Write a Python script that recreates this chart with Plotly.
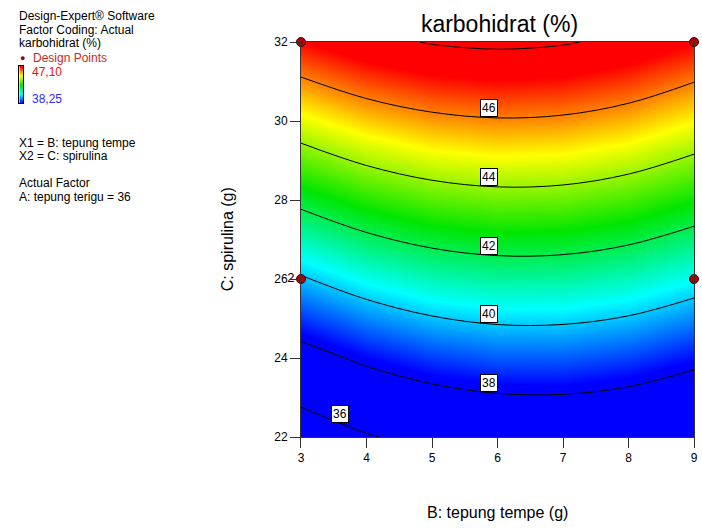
import numpy as np
import plotly.graph_objects as go

# Factor levels (g)
tempe_levels = [3, 4, 5, 6, 7, 8, 9]            # B: tepung tempe
spirulina_levels = [22, 24, 26, 28, 30, 32]     # C: spirulina

# Predicted karbohidrat (%) over the B x C grid, one list per spirulina level
karbo_c22 = [35.10, 35.89, 36.44, 36.73, 36.78, 36.58, 36.13]
karbo_c24 = [37.50, 38.25, 38.76, 39.03, 39.04, 38.81, 38.33]
karbo_c26 = [39.89, 40.61, 41.09, 41.32, 41.30, 41.04, 40.53]
karbo_c28 = [42.28, 42.97, 43.42, 43.62, 43.57, 43.27, 42.73]
karbo_c30 = [44.67, 45.33, 45.74, 45.91, 45.83, 45.50, 44.92]
karbo_c32 = [47.06, 47.69, 48.07, 48.21, 48.09, 47.73, 47.12]
karbo_grid = [karbo_c22, karbo_c24, karbo_c26, karbo_c28, karbo_c30, karbo_c32]

# Design points and their replicate counts
design_tempe = [3, 9, 3, 9]
design_spirulina = [32, 32, 26, 26]
design_reps = [1, 1, 2, 1]

# Contour levels and colour range
level_start, level_end, level_step = 36, 48, 2
labelled_levels = [36, 38, 40, 42, 44, 46]
karbo_low, karbo_high = 38.25, 47.10
x_ticks = [3, 4, 5, 6, 7, 8, 9]
y_ticks = [22, 24, 26, 28, 30, 32]

# Where each contour label sits along B
label_tempe = {36: 3.6, 38: 5.87, 40: 5.87, 42: 5.87, 44: 5.87, 46: 5.87}

W, H = 702, 528
MT, MB = 42, 91
PLOT_LEFT, PLOT_RIGHT = 301, 698
PH = H - MT - MB

FONT = "Arial, 'Liberation Sans', sans-serif"


def px_x(px):
    return px / W


def px_y(py):
    return (H - MB - py) / PH


def spirulina_at(level, tempe):
    """Spirulina value where the response grid reaches `level` at a given B."""
    z = np.asarray(karbo_grid, dtype=float)
    b = np.asarray(tempe_levels, dtype=float)
    col = np.array([np.interp(tempe, b, row) for row in z])
    return float(np.interp(level, col, spirulina_levels))


colorscale = [
    [0.0, "#0000ff"],
    [0.25, "#00ffff"],
    [0.5, "#00e600"],
    [0.75, "#ffff00"],
    [1.0, "#ff0000"],
]

fig = go.Figure()

fig.add_trace(go.Contour(
    x=tempe_levels,
    y=spirulina_levels,
    z=karbo_grid,
    zmin=karbo_low,
    zmax=karbo_high,
    colorscale=colorscale,
    showscale=False,
    contours=dict(start=level_start, end=level_end, size=level_step,
                  coloring="heatmap", showlines=True, showlabels=False),
    line=dict(color="black", width=1, smoothing=1.0),
    hoverinfo="skip",
))

fig.add_trace(go.Scatter(
    x=design_tempe,
    y=design_spirulina,
    mode="markers+text",
    text=[str(r) if r > 1 else "" for r in design_reps],
    textposition="middle left",
    textfont=dict(family=FONT, size=13, color="black"),
    marker=dict(size=9, color="#b40000", line=dict(color="#3a0000", width=1)),
    cliponaxis=False,
    showlegend=False,
    hoverinfo="skip",
))

# Small colour key in the info panel
fig.add_trace(go.Heatmap(
    x=[0, 1],
    y=[karbo_low, karbo_high],
    z=[[karbo_low, karbo_low], [karbo_high, karbo_high]],
    zmin=karbo_low, zmax=karbo_high,
    colorscale=colorscale, zsmooth="best", showscale=False,
    xaxis="x2", yaxis="y2", hoverinfo="skip",
))

annotations = []

# Boxed contour labels, placed on their contour lines
for lvl in labelled_levels:
    bx = label_tempe[lvl]
    annotations.append(dict(
        x=bx, y=spirulina_at(lvl, bx), xref="x", yref="y",
        text=str(lvl), showarrow=False, xanchor="center", yanchor="bottom",
        font=dict(family=FONT, size=12, color="black"),
        bgcolor="white", bordercolor="black", borderwidth=1, borderpad=1,
    ))

# Info panel on the left
panel = [
    ("Design-Expert® Software", 16, "black", 14),
    ("Factor Coding: Actual", 30, "black", 14),
    ("karbohidrat (%)", 43, "black", 14),
    ("Design Points", 58, "#cc1f1f", 28),
    ("47,10", 72, "#ee1111", 27),
    ("38,25", 99, "#2a2aff", 27),
    ("X1 = B: tepung tempe", 143, "black", 14),
    ("X2 = C: spirulina", 156, "black", 14),
    ("Actual Factor", 183, "black", 14),
    ("A: tepung terigu = 36", 197, "black", 14),
]
for text, ypx, color, xpx in panel:
    annotations.append(dict(
        x=px_x(xpx), y=px_y(ypx), xref="paper", yref="paper",
        text=text, showarrow=False, xanchor="left", yanchor="middle",
        font=dict(family=FONT, size=12, color=color),
    ))
annotations.append(dict(
    x=px_x(20), y=px_y(58), xref="paper", yref="paper",
    text="●", showarrow=False, xanchor="center", yanchor="middle",
    font=dict(family=FONT, size=9, color="#a00000"),
))

# Axis titles
annotations.append(dict(
    x=px_x((PLOT_LEFT + PLOT_RIGHT) / 2), y=px_y(512), xref="paper", yref="paper",
    text="B: tepung tempe (g)", showarrow=False,
    xanchor="center", yanchor="middle",
    font=dict(family=FONT, size=16, color="black"),
))
annotations.append(dict(
    x=px_x(227), y=0.5, xref="paper", yref="paper",
    text="C: spirulina (g)", showarrow=False, textangle=-90,
    xanchor="center", yanchor="middle",
    font=dict(family=FONT, size=16, color="black"),
))

axis_common = dict(
    showgrid=False, zeroline=False, showline=True, linecolor="#333333",
    linewidth=1, mirror=True, ticks="outside", ticklen=10,
    tickcolor="#333333", tickfont=dict(family=FONT, size=12, color="black"),
)

key_axis = dict(showgrid=False, zeroline=False, showline=True, mirror=True,
                linecolor="black", linewidth=1, ticks="", showticklabels=False,
                fixedrange=True)

fig.update_layout(
    width=W, height=H, autosize=False,
    margin=dict(l=0, r=0, t=MT, b=MB),
    paper_bgcolor="white", plot_bgcolor="white",
    title=dict(text="karbohidrat (%)", x=px_x((PLOT_LEFT + PLOT_RIGHT) / 2),
               xanchor="center", y=1 - 24 / H, yanchor="middle",
               font=dict(family=FONT, size=23, color="black")),
    xaxis=dict(range=[3, 9], tickvals=x_ticks,
               domain=[px_x(PLOT_LEFT), px_x(PLOT_RIGHT)], **axis_common),
    yaxis=dict(range=[22, 32], tickvals=y_ticks, **axis_common),
    xaxis2=dict(domain=[px_x(16.5), px_x(20.5)], range=[0, 1],
                anchor="y2", **key_axis),
    yaxis2=dict(domain=[px_y(103), px_y(66)], range=[karbo_low, karbo_high],
                anchor="x2", **key_axis),
    annotations=annotations,
    showlegend=False,
)

fig.write_html("out.html")
